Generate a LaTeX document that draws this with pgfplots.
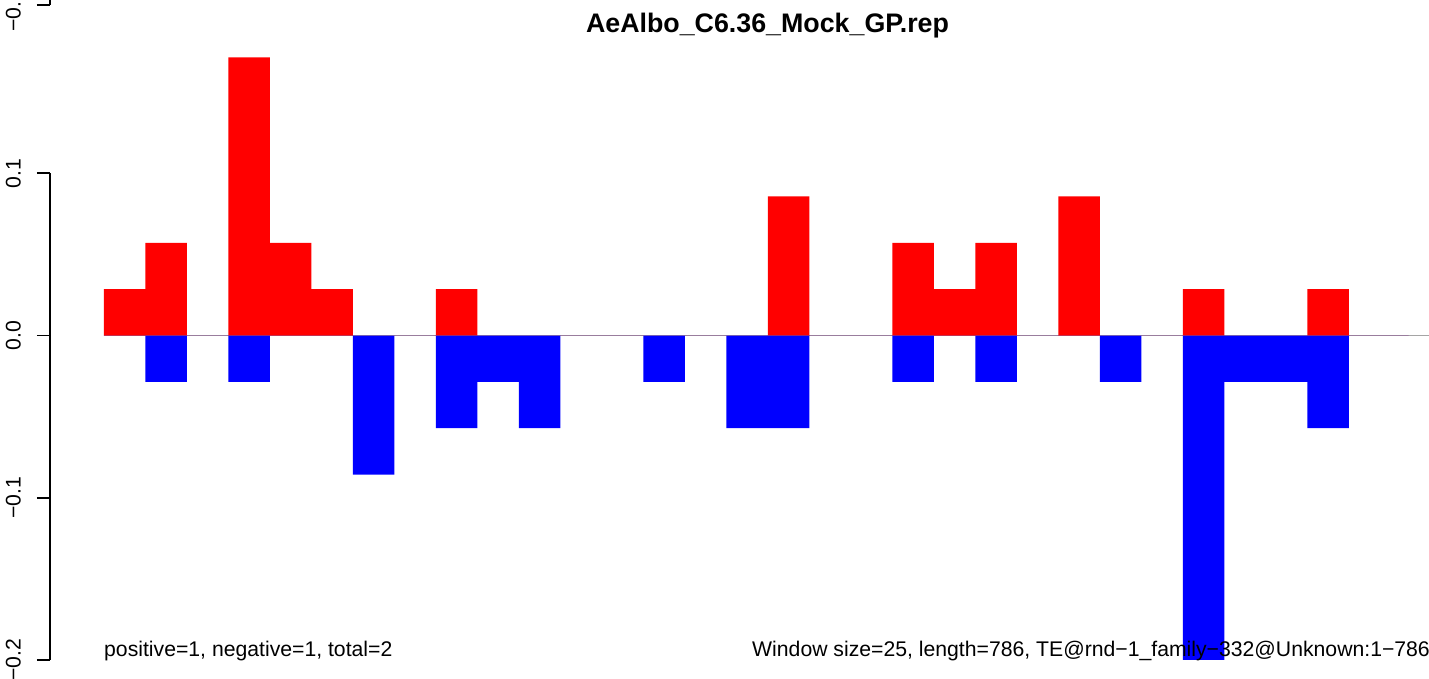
\documentclass[border=0pt]{standalone}
\usepackage{fontspec}
\setmainfont{Liberation Sans}
\usepackage{pgfplots}
\pgfplotsset{compat=1.18}
\definecolor{zeroline}{RGB}{165,165,165}
\pgfplotsset{
  rstyle/.style={
    scale only axis, width=1379pt, height=486.7pt,
    xmin=-32.5, xmax=798.2, ymin=-0.2, ymax=0.1,
    axis x line=none, axis y line*=left,
    ytick={-0.2,-0.1,0,0.1},
    yticklabels={−0.2,−0.1,0.0,0.1},
    tick align=outside, major tick length=13pt,
    axis line style={line width=1.8pt, black},
    major tick style={line width=1.8pt, black},
    yticklabel shift=16pt,
    yticklabel style={rotate=90, anchor=south, inner sep=0pt,
      font=\fontsize{21.2}{25}\selectfont},
  }
}
\begin{document}
\begin{tikzpicture}
% bottom of the panel above (cut by the top edge)
\begin{axis}[rstyle, at={(50pt,674.3pt)}, anchor=south west,
  ymin=-0.15, ymax=0.15, ytick={-0.15}, yticklabels={−0.15}]
\end{axis}
\begin{axis}[rstyle, at={(50pt,19pt)}, anchor=south west, clip=false]
\addplot[draw=zeroline, line width=1.6pt, mark=none] coordinates {(0,0) (850,0)};
\addplot[const plot, fill=red, draw=none, mark=none] coordinates {
(0,0.028571) (25,0.057143) (50,0) (75,0.171429) (100,0.057143) (125,0.028571)
(150,0) (175,0) (200,0.028571) (225,0) (250,0) (275,0) (300,0) (325,0)
(350,0) (375,0) (400,0.085714) (425,0) (450,0) (475,0.057143) (500,0.028571)
(525,0.057143) (550,0) (575,0.085714) (600,0) (625,0) (650,0.028571) (675,0)
(700,0) (725,0.028571) (750,0) (775,0) (786,0)} \closedcycle;
\addplot[const plot, fill=blue, draw=none, mark=none] coordinates {
(0,0) (25,-0.028571) (50,0) (75,-0.028571) (100,0) (125,0) (150,-0.085714)
(175,0) (200,-0.057143) (225,-0.028571) (250,-0.057143) (275,0) (300,0)
(325,-0.028571) (350,0) (375,-0.057143) (400,-0.057143) (425,0) (450,0)
(475,-0.028571) (500,0) (525,-0.028571) (550,0) (575,0) (600,-0.028571)
(625,0) (650,-0.2) (675,-0.028571) (700,-0.028571) (725,-0.057143) (750,0)
(775,0) (786,0)} \closedcycle;
\end{axis}
\node[anchor=base, inner sep=0pt, font=\bfseries\fontsize{26.8}{32}\selectfont]
  at (767.5pt,646pt) {AeAlbo\_C6.36\_Mock\_GP.rep};
\node[anchor=base west, inner sep=0pt, font=\fontsize{21.2}{25}\selectfont]
  at (104pt,22pt) {positive=1, negative=1, total=2};
\node[anchor=base west, inner sep=0pt, font=\fontsize{21.2}{25}\selectfont]
  at (752pt,22pt) {Window size=25, length=786, TE@rnd−1\_family−332@Unknown:1−786};
\pgfresetboundingbox
\path[use as bounding box] (0,0) rectangle (1429pt,679pt);
\end{tikzpicture}
\end{document}
